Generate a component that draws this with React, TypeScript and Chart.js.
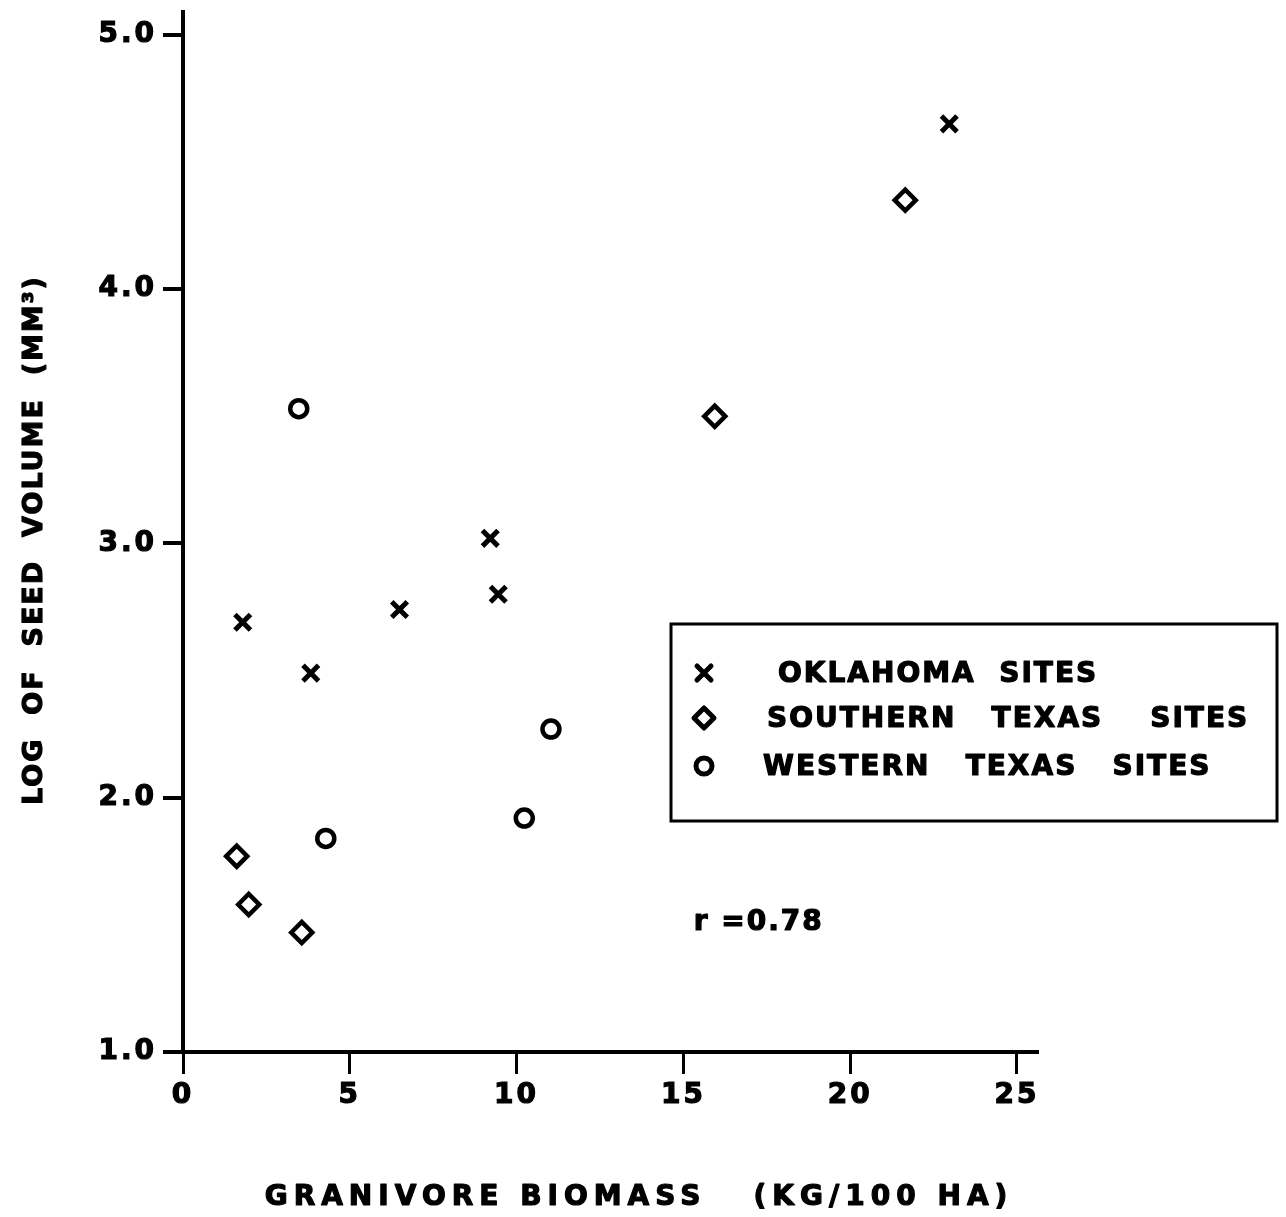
import { useEffect, useRef } from 'react';
import { Chart, registerables } from 'chart.js';

Chart.register(...registerables);

const xTickValues = [0, 5, 10, 15, 20, 25];
const yTickValues = [1, 2, 3, 4, 5];

const oklahomaX = [1.79, 3.83, 6.49, 9.21, 9.45, 22.97];
const oklahomaY = [2.69, 2.49, 2.74, 3.02, 2.8, 4.65];

const southTexasX = [1.61, 1.97, 3.56, 15.94, 21.65];
const southTexasY = [1.77, 1.58, 1.47, 3.5, 4.35];

const westTexasX = [3.47, 4.28, 10.23, 11.03];
const westTexasY = [3.53, 1.84, 1.92, 2.27];

const seriesLabels = ['OKLAHOMA  SITES', 'SOUTHERN   TEXAS    SITES', 'WESTERN   TEXAS   SITES'];
const xTitle = 'GRANIVORE BIOMASS   (KG/100 HA)';
const yTitle = 'LOG  OF  SEED  VOLUME  (MM³)';
const rLabel = 'r =0.78';
const rAt = { x: 15.31, y: 1.51 };

const FONT = 'DejaVu Sans';
const STROKE = 1.2;

const toPoints = (xs: number[], ys: number[]) => xs.map((x, i) => ({ x, y: ys[i] }));

function heavyText(ctx: CanvasRenderingContext2D, text: string, x: number, y: number) {
  ctx.fillText(text, x, y);
  ctx.lineWidth = STROKE;
  ctx.strokeStyle = '#000';
  ctx.lineJoin = 'round';
  ctx.strokeText(text, x, y);
}

function drawSymbol(ctx: CanvasRenderingContext2D, style: string, x: number, y: number) {
  ctx.save();
  ctx.strokeStyle = '#000';
  ctx.lineWidth = 5;
  ctx.lineCap = 'round';
  ctx.lineJoin = 'round';
  ctx.beginPath();
  if (style === 'crossRot') {
    const d = 7;
    ctx.moveTo(x - d, y - d);
    ctx.lineTo(x + d, y + d);
    ctx.moveTo(x + d, y - d);
    ctx.lineTo(x - d, y + d);
  } else if (style === 'rectRot') {
    const r = 10;
    ctx.moveTo(x, y - r);
    ctx.lineTo(x + r, y);
    ctx.lineTo(x, y + r);
    ctx.lineTo(x - r, y);
    ctx.closePath();
  } else {
    ctx.arc(x, y, 8, 0, Math.PI * 2);
  }
  ctx.stroke();
  ctx.restore();
}

const textPlugin = {
  id: 'textPlugin',
  beforeDraw(chart: any) {
    const ctx = chart.ctx as any;
    ctx.letterSpacing = '3px';
  },
  afterDraw(chart: any) {
    const ctx = chart.ctx as any;
    const xs = chart.scales.x;
    const ys = chart.scales.y;

    ctx.save();
    ctx.fillStyle = '#000';
    ctx.font = `bold 28px "${FONT}"`;
    ctx.letterSpacing = '6px';
    ctx.textAlign = 'center';
    ctx.textBaseline = 'middle';
    heavyText(ctx, xTitle, 639, 1198);
    ctx.restore();

    ctx.save();
    ctx.fillStyle = '#000';
    ctx.font = `bold 27px "${FONT}"`;
    ctx.letterSpacing = '2px';
    ctx.textAlign = 'center';
    ctx.textBaseline = 'middle';
    ctx.translate(35, 540);
    ctx.rotate(-Math.PI / 2);
    heavyText(ctx, yTitle, 0, 0);
    ctx.restore();

    ctx.save();
    ctx.fillStyle = '#000';
    ctx.font = `bold 28px "${FONT}"`;
    ctx.letterSpacing = '2px';
    ctx.textAlign = 'left';
    ctx.textBaseline = 'middle';
    heavyText(ctx, rLabel, xs.getPixelForValue(rAt.x), ys.getPixelForValue(rAt.y));
    ctx.restore();

    ctx.save();
    ctx.strokeStyle = '#000';
    ctx.lineWidth = 3;
    ctx.strokeRect(671, 624, 606, 197);
    ctx.fillStyle = '#000';
    ctx.font = `bold 28px "${FONT}"`;
    ctx.letterSpacing = '2px';
    ctx.textAlign = 'left';
    ctx.textBaseline = 'middle';
    const rows = [675, 720, 768];
    const textX = [778, 767, 763];
    chart.data.datasets.forEach((ds: any, i: number) => {
      drawSymbol(ctx, ds.pointStyle, 704, rows[i] - 2);
      heavyText(ctx, ds.label, textX[i], rows[i]);
    });
    ctx.restore();
  },
};

export default function App() {
  const ref = useRef<HTMLCanvasElement>(null);
  useEffect(() => {
    if (!ref.current) return;
    const common = {
      showLine: false,
      borderColor: '#000',
      backgroundColor: 'rgba(0,0,0,0)',
      pointBorderWidth: 5,
    };
    const chart = new Chart(ref.current, {
      type: 'scatter',
      data: {
        datasets: [
          { ...common, label: seriesLabels[0], data: toPoints(oklahomaX, oklahomaY), pointStyle: 'crossRot', pointRadius: 11 },
          { ...common, label: seriesLabels[1], data: toPoints(southTexasX, southTexasY), pointStyle: 'rectRot', pointRadius: 10.5, pointBorderWidth: 4.5 },
          { ...common, label: seriesLabels[2], data: toPoints(westTexasX, westTexasY), pointStyle: 'circle', pointRadius: 8.5, pointBorderWidth: 4.5 },
        ],
      },
      options: {
        animation: false,
        responsive: false,
        events: [],
        layout: { autoPadding: false, padding: { top: 12, right: 249, left: 0, bottom: 0 } },
        plugins: { legend: { display: false }, tooltip: { enabled: false }, title: { display: false } },
        scales: {
          x: {
            type: 'linear',
            min: 0,
            max: 25.6,
            afterFit: (s: any) => { s.height = 165; s.paddingLeft = 0; s.paddingRight = 0; },
            afterBuildTicks: (s: any) => { s.ticks = xTickValues.map((v) => ({ value: v })); },
            border: { display: true, color: '#000', width: 4 },
            grid: { drawOnChartArea: false, drawTicks: true, tickLength: 22, color: '#000', lineWidth: 3 },
            ticks: {
              color: '#000',
              padding: 5,
              maxRotation: 0,
              autoSkip: false,
              font: { family: FONT, weight: 'bold', size: 28 },
              textStrokeColor: '#000',
              textStrokeWidth: STROKE,
              callback: (v: any) => String(v),
            },
          },
          y: {
            type: 'linear',
            min: 1,
            max: 5.09,
            afterFit: (s: any) => { s.width = 183; s.paddingTop = 0; s.paddingBottom = 0; },
            afterBuildTicks: (s: any) => { s.ticks = yTickValues.map((v) => ({ value: v })); },
            border: { display: true, color: '#000', width: 4 },
            grid: { drawOnChartArea: false, drawTicks: true, tickLength: 20, color: '#000', lineWidth: 4 },
            ticks: {
              color: '#000',
              padding: 6,
              autoSkip: false,
              font: { family: FONT, weight: 'bold', size: 28, lineHeight: 0.7 },
              textStrokeColor: '#000',
              textStrokeWidth: STROKE,
              callback: (v: any) => Number(v).toFixed(1),
            },
          },
        },
      },
      plugins: [textPlugin],
    } as any);
    return () => chart.destroy();
  }, []);
  return (
    <div style={{ position: 'absolute', left: 0, top: 0, width: 1286, height: 1217, background: '#fff' }}>
      <canvas ref={ref} width={1286} height={1217} style={{ display: 'block' }} />
    </div>
  );
}
